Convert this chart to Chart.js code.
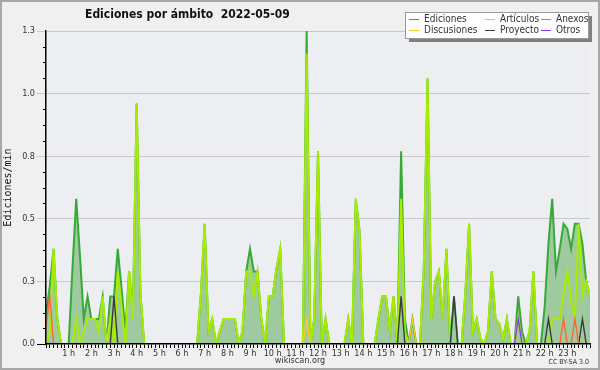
<!DOCTYPE html>
<html>
<head>
<meta charset="utf-8">
<script src="https://cdn.jsdelivr.net/npm/chart.js@4.4.0/dist/chart.umd.min.js"></script>
<style>
  html, body { margin: 0; padding: 0; background: #f0f0f0; }
</style>
</head>
<body>
<canvas id="chart" width="600" height="370"></canvas>
<script>
// ===== datos: ediciones por minuto, un punto cada 10 minutos (0h .. 24h) =====
const minutos = Array.from({ length: 145 }, (_, i) => i * 10);

const ediciones = [
  0.12, 0.23, 0.38, 0.1, 0, 0,
  0, 0.3, 0.58, 0.35, 0.1, 0.19,
  0.1, 0.1, 0.1, 0.19, 0, 0.19,
  0.19, 0.38, 0.22, 0.05, 0.29, 0.12,
  0.96, 0.2, 0, 0, 0, 0,
  0, 0, 0, 0, 0, 0,
  0, 0, 0, 0, 0, 0.2,
  0.48, 0.05, 0.1, 0, 0.05, 0.1,
  0.1, 0.1, 0.1, 0, 0.05, 0.29,
  0.38, 0.29, 0.29, 0.1, 0, 0.19,
  0.19, 0.3, 0.38, 0, 0, 0,
  0, 0, 0, 1.25, 0, 0.1,
  0.77, 0, 0.1, 0, 0, 0,
  0, 0, 0.1, 0, 0.58, 0.45,
  0, 0, 0, 0, 0.1, 0.19,
  0.19, 0.05, 0.19, 0, 0.77, 0.1,
  0, 0.1, 0, 0, 0.3, 1.06,
  0.1, 0.25, 0.29, 0.1, 0.38, 0,
  0.19, 0, 0, 0.2, 0.48, 0.05,
  0.1, 0.02, 0, 0.05, 0.29, 0.1,
  0.08, 0.02, 0.1, 0, 0, 0.19,
  0.05, 0, 0.05, 0.29, 0, 0,
  0.15, 0.4, 0.58, 0.29, 0.38, 0.48,
  0.46, 0.38, 0.48, 0.48, 0.4, 0.25,
  0.19
];

const articulos = [
  0, 0.05, 0.38, 0.1, 0, 0,
  0, 0, 0.1, 0, 0.05, 0.1,
  0.1, 0.1, 0.05, 0.19, 0, 0.1,
  0, 0.29, 0.15, 0, 0.29, 0.1,
  0.96, 0.2, 0, 0, 0, 0,
  0, 0, 0, 0, 0, 0,
  0, 0, 0, 0, 0, 0.2,
  0.48, 0.05, 0.1, 0, 0.05, 0.1,
  0.1, 0.1, 0.1, 0, 0.05, 0.29,
  0.29, 0.19, 0.29, 0.1, 0, 0.19,
  0.19, 0.3, 0.38, 0, 0, 0,
  0, 0, 0, 1.16, 0, 0.1,
  0.77, 0, 0.1, 0, 0, 0,
  0, 0, 0.1, 0, 0.58, 0.45,
  0, 0, 0, 0, 0.1, 0.19,
  0.19, 0.05, 0.19, 0, 0.58, 0.05,
  0, 0, 0, 0, 0.3, 1.06,
  0.1, 0.25, 0.29, 0.1, 0.38, 0,
  0, 0, 0, 0.2, 0.48, 0.05,
  0.1, 0.02, 0, 0.05, 0.29, 0.1,
  0.08, 0.02, 0.1, 0, 0, 0.1,
  0, 0, 0.05, 0.29, 0, 0,
  0, 0, 0.1, 0.1, 0.1, 0.2,
  0.29, 0.17, 0.1, 0.48, 0.19, 0.25,
  0.19
];

// series con pocos puntos: minuto del dia y valor
const anexosMin = [0, 10, 1370, 1400];
const anexosVal = [0.07, 0.19, 0.1, 0.1];
const discusionesMin = [690, 970];
const discusionesVal = [0.1, 0.1];
const proyectoMin = [180, 940, 1080, 1330, 1420];
const proyectoVal = [0.19, 0.19, 0.19, 0.1, 0.1];
const otrosMin = [1250];
const otrosVal = [0.1];

const nombres = ["Ediciones", "Artículos", "Anexos", "Discusiones", "Proyecto", "Otros"];
const colores = ["#36aa36", "#a8ec00", "#ff6633", "#ffc822", "#3c3c3c", "#9933ff"];
const yTicks = [0, 0.25, 0.5, 0.75, 1, 1.25];

const FUENTE = "'DejaVu Sans Condensed', 'DejaVu Sans', sans-serif";

// ===== helpers =====
const esparcida = (mins, vals) =>
  minutos.map(m => {
    const k = mins.indexOf(m);
    return k >= 0 ? vals[k] : 0;
  });

// quita los ceros aislados para que no se pinte la linea sobre el eje
const sinCeros = (vals) =>
  vals.map((v, i) =>
    v === 0 && !(vals[i - 1] > 0) && !(vals[i + 1] > 0) ? null : v
  );

const series = [
  ediciones,
  articulos,
  esparcida(anexosMin, anexosVal),
  esparcida(discusionesMin, discusionesVal),
  esparcida(proyectoMin, proyectoVal),
  esparcida(otrosMin, otrosVal)
];

const datasets = series.map((vals, i) => ({
  label: nombres[i],
  data: sinCeros(vals),
  borderColor: colores[i],
  backgroundColor: i === 0 ? "#9fca9f" : colores[i],
  fill: i === 0 ? "origin" : false,
  borderWidth: i < 2 ? 2 : 1.4,
  pointRadius: 0,
  tension: 0,
  spanGaps: false,
  order: i === 0 ? 3 : (i === 1 ? 2 : 1)
}));

// ===== plugin de decoracion =====
const decoracion = {
  id: "decoracion",
  beforeDraw(chart) {
    const { ctx, chartArea: a } = chart;
    ctx.save();
    ctx.fillStyle = "#f0f0f0";
    ctx.fillRect(0, 0, chart.width, chart.height);
    ctx.fillStyle = "#eceef1";
    ctx.fillRect(a.left, a.top, a.right - a.left, a.bottom - a.top);
    ctx.restore();
  },
  afterDraw(chart) {
    const { ctx, chartArea: a } = chart;
    const y = chart.scales.y;
    ctx.save();

    // ticks menores del eje y
    ctx.strokeStyle = "#000";
    ctx.lineWidth = 1;
    for (let v = 0.0625; v < 1.25; v += 0.0625) {
      if (Math.abs(v / 0.25 - Math.round(v / 0.25)) < 1e-6) continue;
      const py = Math.round(y.getPixelForValue(v)) + 0.5;
      ctx.beginPath();
      ctx.moveTo(a.left - 3, py);
      ctx.lineTo(a.left, py);
      ctx.stroke();
    }

    // titulo
    ctx.fillStyle = "#111";
    ctx.font = "bold 12px " + FUENTE;
    ctx.textBaseline = "middle";
    ctx.textAlign = "left";
    ctx.fillText("Ediciones por ámbito  2022-05-09", 85, 15);

    // leyenda
    const lx = 405, ly = 12, lw = 183, lh = 26;
    ctx.fillStyle = "#808080";
    ctx.fillRect(lx + 4, ly + 4, lw, lh);
    ctx.fillStyle = "#fff";
    ctx.fillRect(lx, ly, lw, lh);
    ctx.strokeStyle = "#999";
    ctx.strokeRect(lx + 0.5, ly + 0.5, lw, lh);

    const columnas = [409, 485, 541];
    const filas = [19, 30];
    const orden = [[0, 1, 2], [3, 4, 5]];
    ctx.font = "10px " + FUENTE;
    orden.forEach((fila, r) => {
      fila.forEach((idx, c) => {
        const x = columnas[c], yy = filas[r];
        ctx.strokeStyle = colores[idx];
        ctx.lineWidth = 1;
        ctx.beginPath();
        ctx.moveTo(x, yy + 0.5);
        ctx.lineTo(x + 10, yy + 0.5);
        ctx.stroke();
        ctx.fillStyle = "#333";
        ctx.fillText(nombres[idx], x + 15, yy);
      });
    });

    // pie
    ctx.fillStyle = "#333";
    ctx.font = "9px " + FUENTE;
    ctx.textAlign = "center";
    ctx.fillText("wikiscan.org", 300, 361);
    ctx.font = "7px " + FUENTE;
    ctx.textAlign = "right";
    ctx.fillText("CC BY-SA 3.0", 589, 362);

    // marco
    ctx.strokeStyle = "#a8a8a8";
    ctx.lineWidth = 2;
    ctx.strokeRect(1, 1, chart.width - 2, chart.height - 2);
    ctx.restore();
  }
};

Chart.defaults.font.family = FUENTE;
Chart.defaults.color = "#333";

new Chart(document.getElementById("chart"), {
  type: "line",
  data: {
    labels: minutos,
    datasets: datasets
  },
  options: {
    responsive: false,
    animation: false,
    devicePixelRatio: 1,
    layout: { padding: { left: 0, right: 10, top: 31, bottom: 0 } },
    plugins: {
      legend: { display: false },
      title: { display: false },
      tooltip: { enabled: false }
    },
    scales: {
      x: {
        type: "linear",
        min: 0,
        max: 1440,
        afterFit: (s) => { s.height = 26; },
        border: { display: true, color: "#000", width: 1.5, z: 1 },
        grid: { drawOnChartArea: false, tickLength: 4, color: "#000", z: 1 },
        ticks: {
          stepSize: 10,
          autoSkip: false,
          maxRotation: 0,
          minRotation: 0,
          padding: 0,
          font: { size: 9 },
          callback: (v) => (v % 60 === 0 && v > 0 && v < 1440 ? (v / 60) + " h" : "")
        }
      },
      y: {
        min: 0,
        max: 1.25,
        afterFit: (s) => { s.width = 46; },
        afterBuildTicks: (s) => { s.ticks = yTicks.map(v => ({ value: v })); },
        border: { display: true, color: "#000", width: 1.5, z: 1 },
        grid: {
          tickLength: 9,
          color: (c) => (c.tick && c.tick.value === 0 ? "rgba(0,0,0,0)" : "#c8c8c8"),
          tickColor: (c) => (c.tick && c.tick.value === 0 ? "#000" : "#c8c8c8")
        },
        ticks: {
          padding: 2,
          font: { size: 9 },
          callback: (v) => Number(v).toFixed(1)
        },
        title: {
          display: true,
          text: "Ediciones/min",
          font: { family: "'DejaVu Sans Mono', monospace", size: 10 },
          color: "#111",
          padding: { top: 2, bottom: 0 }
        }
      }
    }
  },
  plugins: [decoracion]
});
</script>
</body>
</html>
